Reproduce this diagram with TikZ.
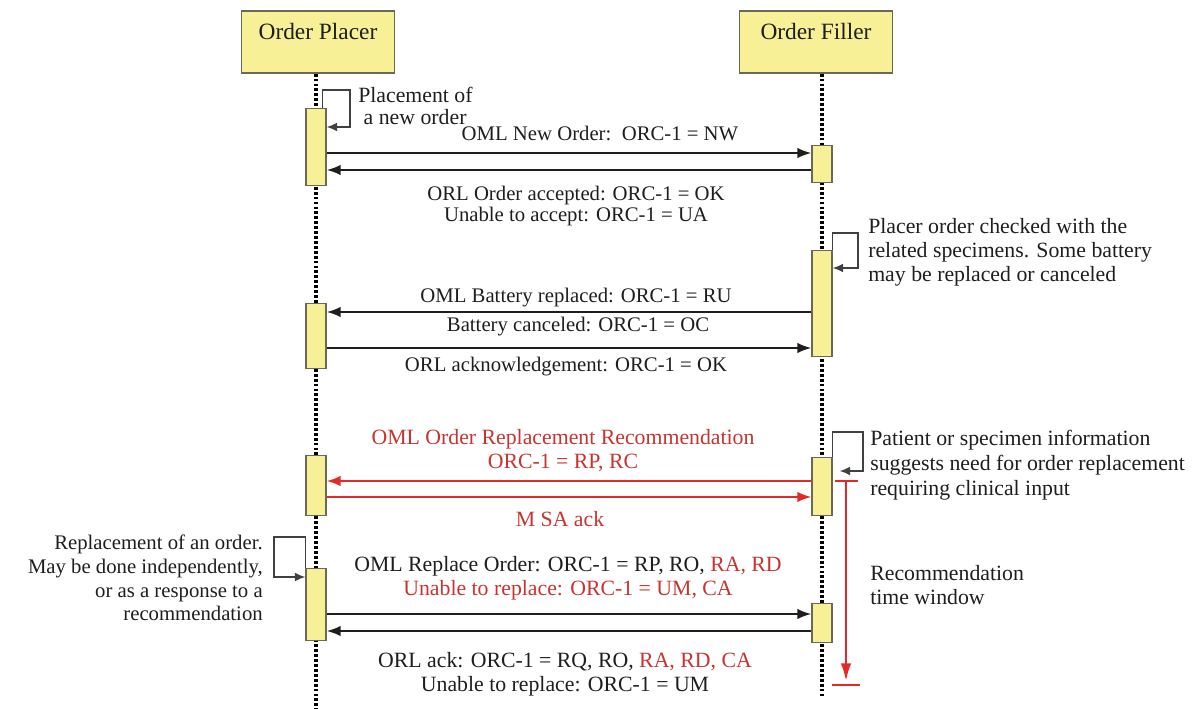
\documentclass[tikz,border=0pt]{standalone}
\usepackage{fontspec}
\setmainfont{Liberation Serif}
\usetikzlibrary{arrows.meta}
\definecolor{boxyellow}{RGB}{247,240,150}
\definecolor{boxedge}{RGB}{105,105,85}
\definecolor{msgred}{RGB}{228,42,38}
\definecolor{txtred}{RGB}{200,52,48}
\definecolor{ink}{RGB}{30,30,30}
\newcommand{\lblfont}{\fontsize{12.4}{13.6}\selectfont}
\newcommand{\smlfont}{\fontsize{11.8}{12.2}\selectfont}
\newcommand{\actbar}[4]{\node[bar, minimum height=#4*0.02cm] (#1) at (#2,#3) {};}
\begin{document}
\begin{tikzpicture}[x=0.02cm, y=-0.02cm, line width=0.6pt,
  actor/.style={draw=boxedge, fill=boxyellow, line width=0.8pt, minimum width=3.06cm,
    minimum height=1.24cm, inner sep=0pt, text height=0.3cm, text depth=0.38cm,
    font=\fontsize{13.3}{15}\selectfont, text=ink},
  bar/.style={draw=boxedge, fill=boxyellow, line width=0.7pt, minimum width=0.4cm,
    inner sep=0pt, anchor=north},
  life/.style={line width=1.8pt, dash pattern=on 1.6pt off 1.2pt},
  msg/.style={-{Latex[length=8pt,width=6pt]}, line width=1.2pt, draw=ink},
  redmsg/.style={msg, draw=msgred},
  selfloop/.style={-{Latex[length=6pt,width=5pt]}, line width=0.8pt, draw=black!75},
  lbl/.style={font=\lblfont, text=ink, inner sep=1pt, align=center},
  smlbl/.style={lbl, font=\smlfont},
  redlbl/.style={lbl, text=txtred},
  note/.style={lbl, align=left, anchor=west}]
\useasboundingbox (0,0) rectangle (1196,709);
% 참여자 상자
\node[actor] (placer) at (318,42) {Order Placer};
\node[actor] (filler) at (816,42) {Order Filler};
% 생명선
\coordinate (pl) at (316,709);
\coordinate (fl) at (822,697);
\draw[life] (placer.south -| pl) -- (pl);
\draw[life] (filler.south -| fl) -- (fl);
% 활성 막대
\actbar{p1}{316}{108}{77}
\actbar{f1}{822}{145}{37}
\actbar{f2}{822}{250}{106}
\actbar{p2}{316}{303}{65}
\actbar{p3}{316}{455}{60}
\actbar{f3}{822}{457}{58}
\actbar{p4}{316}{568}{72}
\actbar{f4}{822}{603}{39}
% 자기 호출
\coordinate (s1a) at (350,90);  \coordinate (s1b) at (0,127);
\coordinate (s2a) at (858,233); \coordinate (s2b) at (0,268);
\coordinate (s3a) at (863,432); \coordinate (s3b) at (0,471);
\coordinate (s4a) at (274,537); \coordinate (s4b) at (0,577);
\draw[selfloop] ([xshift=-0.08cm]p1.north east) |- (s1a) |- (p1.east |- s1b);
\draw[selfloop] (f2.north east) |- (s2a) |- (f2.east |- s2b);
\draw[selfloop] (f3.north east) |- (s3a) |- ([xshift=0.14cm]f3.east |- s3b);
\draw[selfloop] (p4.north west) |- (s4a) |- (p4.west |- s4b);
% 메시지
\coordinate (m1) at (0,153); \coordinate (m2) at (0,170);
\coordinate (m3) at (0,312); \coordinate (m4) at (0,348);
\coordinate (m5) at (0,481); \coordinate (m6) at (0,497);
\coordinate (m7) at (0,614); \coordinate (m8) at (0,631);
\draw[msg] (p1.east |- m1) -- (f1.west |- m1);
\draw[msg] (f1.west |- m2) -- (p1.east |- m2);
\draw[msg] (f2.west |- m3) -- (p2.east |- m3);
\draw[msg] (p2.east |- m4) -- (f2.west |- m4);
\draw[redmsg] (f3.west |- m5) -- (p3.east |- m5);
\draw[redmsg] (p3.east |- m6) -- (f3.west |- m6);
\draw[msg] (p4.east |- m7) -- (f4.west |- m7);
\draw[msg] (f4.west |- m8) -- (p4.east |- m8);
% 메시지 글자
\node[smlbl] (l1) at (600,133) {OML New Order:\ \ ORC-1 = NW};
\node[smlbl] (l2) at (576,206) {ORL Order accepted: ORC-1 = OK\\Unable to accept: ORC-1 = UA};
\node[smlbl] (l3) at (576,298) {OML Battery replaced: ORC-1 = RU};
\node[smlbl] (l4) at (578,327) {Battery canceled: ORC-1 = OC};
\node[smlbl] (l5) at (566,367) {ORL acknowledgement: ORC-1 = OK};
\node[redlbl] (l6) at (563,451) {OML Order Replacement Recommendation\\ORC-1 = RP, RC};
\node[redlbl] (l7) at (560,519) {M SA ack};
\node[lbl] (l8) at (568,578) {OML Replace Order: ORC-1 = RP, RO, \textcolor{txtred}{RA, RD}\\\textcolor{txtred}{Unable to replace: ORC-1 = UM, CA}};
\node[lbl] (l9) at (565,674) {ORL ack: ORC-1 = RQ, RO, \textcolor{txtred}{RA, RD, CA}\\Unable to replace: ORC-1 = UM};
% 설명 글자
\node[note, font=\fontsize{12.4}{12.6}\selectfont] (n1) at (356,106) {Placement of\\\ a new order};
\node[note] (n2) at (866,252) {Placer order checked with the\\related specimens. Some battery\\may be replaced or canceled};
\node[note, font=\fontsize{12.4}{14.1}\selectfont] (n3) at (868,465) {Patient or specimen information\\suggests need for order replacement\\requiring clinical input};
\node[note] (n4) at (868,585) {Recommendation\\time window};
\node[lbl, font=\fontsize{11.8}{13.5}\selectfont, align=right, anchor=east] (n5) at (265,578) {Replacement of an order.\\May be done independently,\\or as a response to a\\recommendation};
% 권고 시간 창
\coordinate (tw1) at (846,481);
\coordinate (tw2) at (846,685);
\draw[msgred, line width=1.3pt, -{Latex[length=10pt,width=6pt]}] (tw1) -- ([yshift=0.08cm]tw2);
\draw[msgred, line width=1.5pt] ([xshift=-0.23cm]tw1) -- ([xshift=0.23cm]tw1);
\draw[msgred, line width=1.5pt] ([xshift=-0.28cm]tw2) -- ([xshift=0.28cm]tw2);
\end{tikzpicture}
\end{document}
